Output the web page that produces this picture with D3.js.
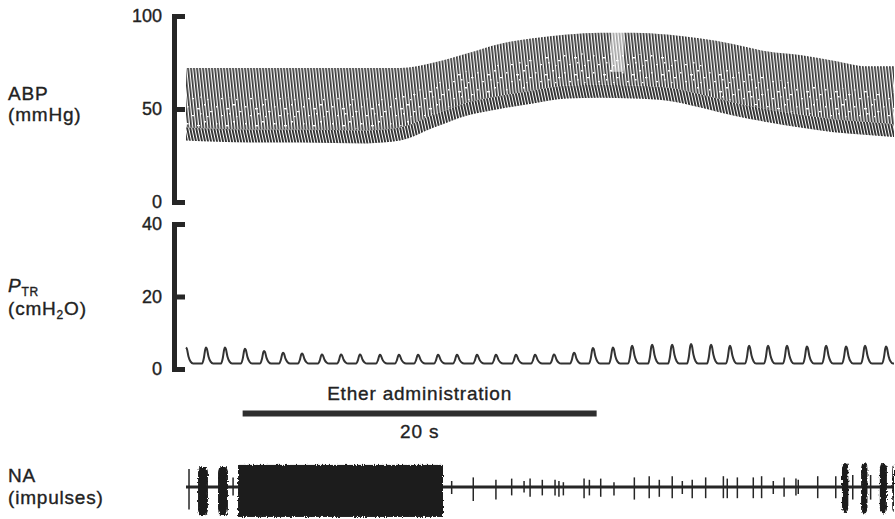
<!DOCTYPE html>
<html>
<head>
<meta charset="utf-8">
<script src="https://cdn.jsdelivr.net/npm/d3@7"></script>
<style>
  body { margin: 0; background: #fff; }
  svg text { font-family: "Liberation Sans", Arial, sans-serif; fill: #222; stroke: #222; stroke-width: 0.35px; }
  .axis path, .axis line { stroke: #262626; stroke-width: 5; }
  .axis path { stroke-linecap: square; }
  .axis text { font-size: 18px; }
  .label { font-size: 19px; letter-spacing: 0.8px; }
</style>
</head>
<body>
<svg id="fig"></svg>
<script>
// ---- data (time in s from start of trace) ----
// arterial blood pressure envelope, mmHg
const abpTime = [0, 3.6, 6.4, 10.2, 12.1, 14.0, 15.9, 17.7, 19.6, 21.5, 23.4, 25.3, 27.2, 29.0, 30.9, 32.8, 34.7, 36.6, 38.5, 40];
const abpSystolic = [72, 72, 72, 72, 72, 75, 80, 85, 88, 90, 91, 91, 90, 88, 85, 81, 79, 76, 73, 73];
const abpDiastolic = [33, 32, 32, 31.5, 33, 40, 46.5, 50, 53, 55.6, 56, 55.6, 54.5, 51, 46.5, 43, 40, 37.5, 36, 35];
const abpTicks = [0, 50, 100];
// short stretch where the pen trace faded out (s)
const abpFade = [24.0, 24.75];

// tracheal pressure, one peak per breath, cmH2O
const ptrPeakTime = [0, 1.13, 2.2, 3.33, 4.41, 5.48, 6.55, 7.68, 8.76, 9.83, 10.96, 12.03, 13.11,
  14.24, 15.31, 16.44, 17.51, 18.64, 19.72, 20.79, 21.92, 22.99, 24.12, 25.2, 26.33, 27.46,
  28.53, 29.66, 30.73, 31.81, 32.88, 33.95, 35.08, 36.16, 37.29, 38.36, 39.55];
const ptrPeakValue = [5.9, 5.9, 5.9, 5.6, 5.0, 4.5, 4.3, 4.0, 4.0, 4.0, 3.9, 3.9, 3.9,
  3.9, 3.9, 3.9, 3.9, 3.9, 3.9, 4.0, 4.5, 5.8, 5.9, 6.4, 6.7, 6.7,
  6.9, 6.7, 6.4, 6.4, 6.4, 6.4, 6.2, 6.4, 6.2, 6.4, 6.2];
const ptrBaseline = 1.5;
const ptrTicks = [0, 20, 40];

// nerve activity: bursts (start, end, relative height up / down) and single impulses
const naBurstStart = [0.68, 1.81, 2.94, 37.06, 38.14, 39.2, 39.9];
const naBurstEnd = [1.24, 2.37, 14.52, 37.42, 38.5, 39.6, 40.0];
const naBurstUp = [0.83, 0.83, 0.92, 1.0, 1.0, 1.0, 0.9];
const naBurstDown = [1.0, 1.0, 1.07, 0.93, 0.95, 0.95, 0.9];
const naSpikeTime = [0.17, 2.66, 15.01, 16.23, 17.51, 18.4, 19.1, 19.44, 20.13, 20.85, 21.07, 21.32,
  22.49, 22.79, 23.43, 24.18, 25.33, 26.17, 26.74, 27.47, 28.04, 28.6, 29.36, 30.36, 30.58,
  31.15, 32.05, 32.52, 33.18, 33.79, 34.46, 34.59, 35.69, 36.71, 37.67, 38.68];
const naSpikeUp = [0.75, 0.4, 0.25, 0.4, 0.3, 0.35, 0.25, 0.35, 0.3, 0.3, 0.25, 0.2,
  0.35, 0.3, 0.35, 0.2, 0.4, 0.45, 0.3, 0.45, 0.25, 0.3, 0.4, 0.45, 0.35,
  0.4, 0.4, 0.45, 0.25, 0.4, 0.35, 0.3, 0.45, 0.45, 0.5, 0.5];
const naSpikeDown = [0.8, 0.3, 0.25, 0.5, 0.45, 0.3, 0.2, 0.35, 0.3, 0.3, 0.35, 0.3,
  0.4, 0.3, 0.35, 0.3, 0.45, 0.4, 0.35, 0.4, 0.25, 0.4, 0.4, 0.4, 0.4,
  0.4, 0.4, 0.4, 0.25, 0.35, 0.3, 0.25, 0.4, 0.4, 0.45, 0.45];

// ether given for 20 s
const etherStart = 3.2;
const etherEnd = 23.2;

// ---- drawing ----
const width = 895;
const height = 519;
const ink = '#262626';

const svg = d3.select('#fig')
  .attr('width', width)
  .attr('height', height);

const xScale = d3.scaleLinear().domain([0, 40]).range([186, 894]);
const yAbp = d3.scaleLinear().domain([0, 100]).range([202, 16]);
const yPtr = d3.scaleLinear().domain([0, 40]).range([369, 224]);
const yNa = d3.scaleLinear().domain([-1, 0, 1]).range([515, 487, 463]);

const defs = svg.append('defs');

// each heart beat is a thin slanted stroke; the pressure band is filled with them
defs.append('pattern')
  .attr('id', 'beats')
  .attr('patternUnits', 'userSpaceOnUse')
  .attr('width', 3)
  .attr('height', 10)
  .attr('patternTransform', 'skewX(6)')
  .append('rect')
  .attr('width', 1.7)
  .attr('height', 10)
  .attr('fill', '#333');

defs.append('pattern')
  .attr('id', 'beatsDense')
  .attr('patternUnits', 'userSpaceOnUse')
  .attr('width', 3)
  .attr('height', 10)
  .attr('patternTransform', 'skewX(12)')
  .append('rect')
  .attr('width', 1.9)
  .attr('height', 10)
  .attr('fill', '#2c2c2c');

// white flecks where the dicrotic part of neighbouring beats smears together
const fleck = defs.append('pattern')
  .attr('id', 'flecks')
  .attr('patternUnits', 'userSpaceOnUse')
  .attr('width', 29)
  .attr('height', 17);
[[1, 2, 2, 1.5], [7, 9, 2.5, 1.2], [13, 4, 1.5, 1.5], [18, 13, 2, 1.2], [23, 6, 3, 1.4], [4, 14, 1.5, 1.2], [26, 11, 1.5, 1.5]]
  .forEach(([x, y, w, h]) => {
    fleck.append('rect').attr('x', x).attr('y', y).attr('width', w).attr('height', h).attr('fill', '#fff');
  });

const rough = defs.append('filter')
  .attr('id', 'rough')
  .attr('x', '-10%').attr('y', '-20%')
  .attr('width', '120%').attr('height', '140%');
rough.append('feTurbulence')
  .attr('type', 'fractalNoise')
  .attr('baseFrequency', '0.9 0.35')
  .attr('numOctaves', 2)
  .attr('seed', 4)
  .attr('result', 'noise');
rough.append('feDisplacementMap')
  .attr('in', 'SourceGraphic')
  .attr('in2', 'noise')
  .attr('scale', 4)
  .attr('xChannelSelector', 'R')
  .attr('yChannelSelector', 'G');

defs.append('clipPath')
  .attr('id', 'traceClip')
  .append('rect')
  .attr('x', xScale(0) - 2)
  .attr('y', 0)
  .attr('width', xScale(40) - xScale(0) + 4)
  .attr('height', height);

// ABP band
const abp = abpTime.map((t, i) => ({ t, sys: abpSystolic[i], dia: abpDiastolic[i] }));
const lowerBand = 7; // mmHg above diastolic where the down-strokes crowd together

const bandArea = (lo, hi) => d3.area()
  .x((d) => xScale(d.t))
  .y0((d) => yAbp(lo(d)))
  .y1((d) => yAbp(hi(d)))
  .curve(d3.curveMonotoneX);

const traces = svg.append('g').attr('clip-path', 'url(#traceClip)');

traces.append('path')
  .datum(abp)
  .attr('d', bandArea((d) => d.dia + lowerBand, (d) => d.sys))
  .attr('fill', 'url(#beats)');

traces.append('path')
  .datum(abp)
  .attr('d', bandArea((d) => d.dia, (d) => d.dia + lowerBand))
  .attr('fill', 'url(#beatsDense)');

traces.append('path')
  .datum(abp)
  .attr('d', bandArea((d) => d.dia + 8, (d) => d.dia + 24))
  .attr('fill', 'url(#flecks)');

// faded stretch of the pen trace
const fadeData = abp.filter((d) => d.t >= abpFade[0] - 2 && d.t <= abpFade[1] + 2);
const fadeTop = yAbp(d3.max(fadeData, (d) => d.sys)) - 2;
const fadeBottom = yAbp(d3.max(fadeData, (d) => d.dia + 14));
traces.append('rect')
  .attr('x', xScale(abpFade[0]))
  .attr('width', xScale(abpFade[1]) - xScale(abpFade[0]))
  .attr('y', fadeTop)
  .attr('height', fadeBottom - fadeTop)
  .attr('fill', '#fff')
  .attr('opacity', 0.55);

// PTR: one pressure wave per breath, built around each measured peak
const breathDt = [-0.22, -0.12, -0.04, 0, 0.05, 0.14, 0.26, 0.4];
const breathK = [0, 0.35, 0.9, 1, 0.92, 0.45, 0.12, 0];
const ptrPoints = [];
ptrPeakTime.forEach((tp, i) => {
  breathDt.forEach((dt, j) => {
    const t = tp + dt;
    if (t < 0 || t > 40) return;
    ptrPoints.push({ t, v: ptrBaseline + breathK[j] * (ptrPeakValue[i] - ptrBaseline) });
  });
});
ptrPoints.push({ t: 40, v: ptrBaseline });

const ptrLine = d3.line()
  .x((d) => xScale(d.t))
  .y((d) => yPtr(d.v))
  .curve(d3.curveMonotoneX);

traces.append('path')
  .datum(ptrPoints)
  .attr('d', ptrLine)
  .attr('fill', 'none')
  .attr('stroke', '#333')
  .attr('stroke-width', 2);

// NA baseline, impulses and bursts
traces.append('line')
  .attr('x1', xScale(0))
  .attr('x2', xScale(40))
  .attr('y1', yNa(0))
  .attr('y2', yNa(0))
  .attr('stroke', ink)
  .attr('stroke-width', 2.8);

traces.append('g')
  .selectAll('line')
  .data(naSpikeTime.map((t, i) => ({ t, up: naSpikeUp[i], down: naSpikeDown[i] })))
  .join('line')
  .attr('x1', (d) => xScale(d.t))
  .attr('x2', (d) => xScale(d.t))
  .attr('y1', (d) => yNa(d.up))
  .attr('y2', (d) => yNa(-d.down))
  .attr('stroke', ink)
  .attr('stroke-width', 1.5);

traces.append('g')
  .attr('filter', 'url(#rough)')
  .selectAll('rect')
  .data(naBurstStart.map((t, i) => ({ t0: t, t1: naBurstEnd[i], up: naBurstUp[i], down: naBurstDown[i] })))
  .join('rect')
  .attr('x', (d) => xScale(d.t0))
  .attr('width', (d) => xScale(d.t1) - xScale(d.t0))
  .attr('y', (d) => yNa(d.up))
  .attr('height', (d) => yNa(-d.down) - yNa(d.up))
  .attr('rx', (d) => ((xScale(d.t1) - xScale(d.t0)) < 15 ? 3 : 0))
  .attr('ry', (d) => ((xScale(d.t1) - xScale(d.t0)) < 15 ? 6 : 0))
  .attr('fill', '#1c1c1c');

// axes: heavy bracket with ticks pointing at the trace
const axisX = 174;
function bracketAxis(scale, ticks) {
  return d3.axisLeft(scale)
    .tickValues(ticks)
    .tickSizeInner(-11)
    .tickSizeOuter(0)
    .tickPadding(12);
}

svg.append('g')
  .attr('class', 'axis')
  .attr('transform', `translate(${axisX},0)`)
  .call(bracketAxis(yAbp, abpTicks))
  .call((g) => g.selectAll('text').attr('font-family', null).attr('font-size', null).attr('fill', null));

svg.append('g')
  .attr('class', 'axis')
  .attr('transform', `translate(${axisX},0)`)
  .call(bracketAxis(yPtr, ptrTicks))
  .call((g) => g.selectAll('text').attr('font-family', null).attr('font-size', null).attr('fill', null));

// channel labels
svg.append('text').attr('class', 'label').attr('x', 8).attr('y', 100).text('ABP');
svg.append('text').attr('class', 'label').attr('x', 8).attr('y', 121).text('(mmHg)');

const ptrLabel = svg.append('text').attr('class', 'label').attr('x', 8).attr('y', 292);
ptrLabel.append('tspan').attr('font-style', 'italic').text('P');
ptrLabel.append('tspan').attr('font-size', 12).attr('dy', 4).text('TR');

const ptrUnit = svg.append('text').attr('class', 'label').attr('x', 8).attr('y', 315);
ptrUnit.append('tspan').text('(cmH');
ptrUnit.append('tspan').attr('font-size', 12).attr('dy', 4).text('2');
ptrUnit.append('tspan').attr('dy', -4).text('O)');

svg.append('text').attr('class', 'label').attr('x', 8).attr('y', 482).text('NA');
svg.append('text').attr('class', 'label').attr('x', 8).attr('y', 504).text('(impulses)');

// ether period / 20 s time bar
const barY = 413.5;
svg.append('line')
  .attr('x1', xScale(etherStart))
  .attr('x2', xScale(etherEnd))
  .attr('y1', barY)
  .attr('y2', barY)
  .attr('stroke', '#2e2e2e')
  .attr('stroke-width', 6);

const barMid = xScale((etherStart + etherEnd) / 2);
svg.append('text')
  .attr('class', 'label')
  .attr('x', barMid)
  .attr('y', 400)
  .attr('text-anchor', 'middle')
  .text('Ether administration');
svg.append('text')
  .attr('class', 'label')
  .attr('x', barMid)
  .attr('y', 438)
  .attr('text-anchor', 'middle')
  .text(`${etherEnd - etherStart} s`);
</script>
</body>
</html>
